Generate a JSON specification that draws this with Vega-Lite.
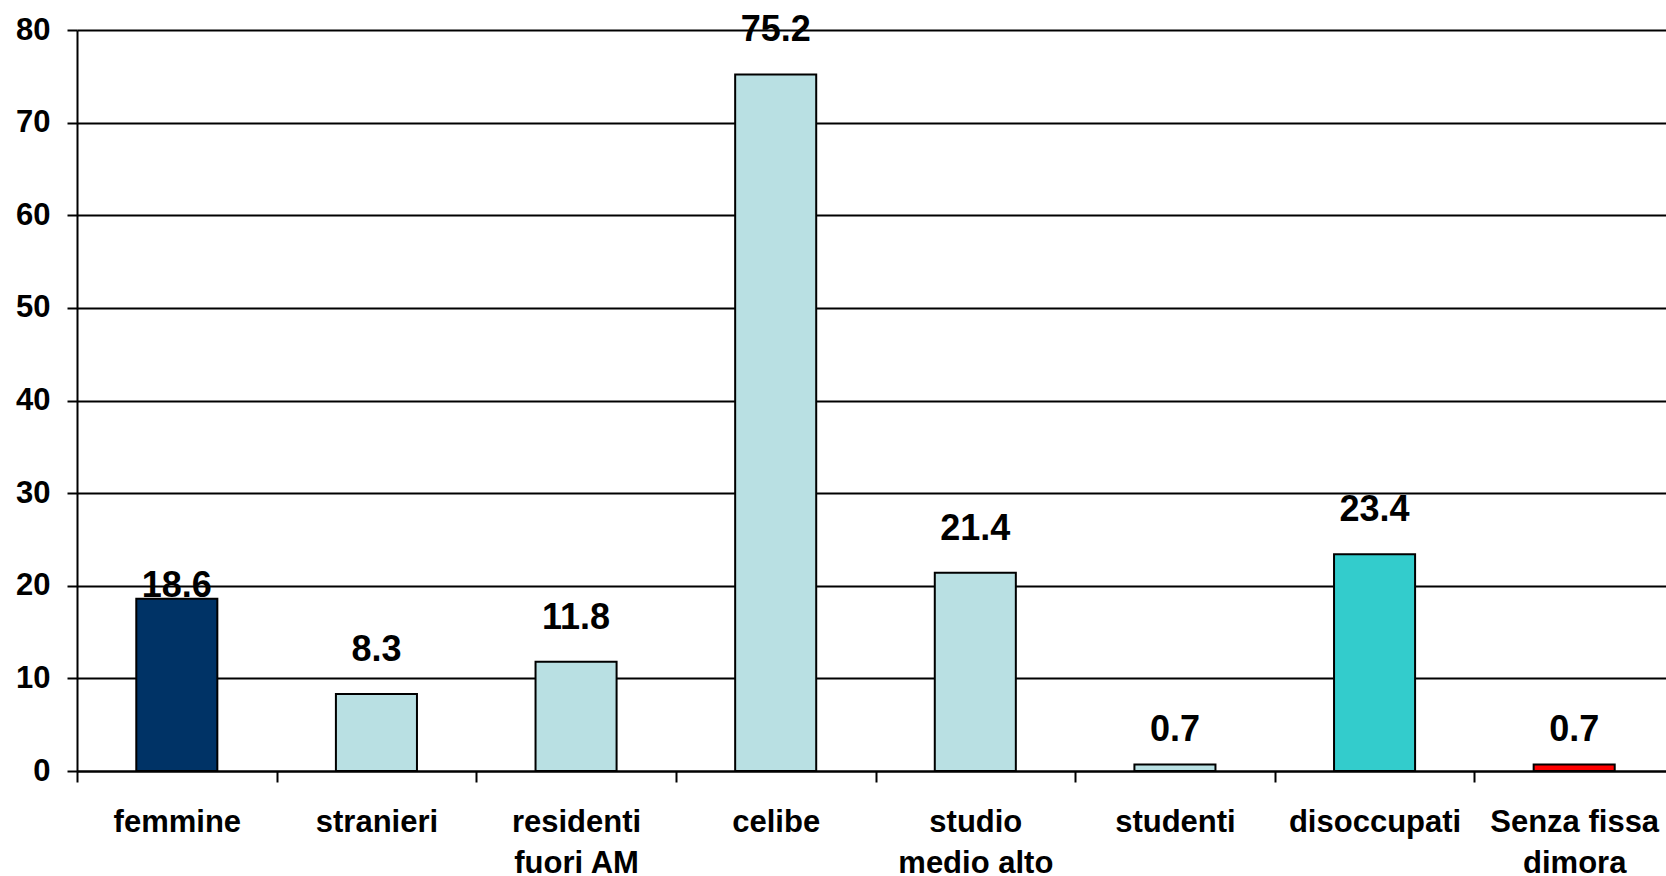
{
  "$schema": "https://vega.github.io/schema/vega-lite/v6.json",
  "width": 1589,
  "height": 741,
  "autosize": {"type": "none"},
  "padding": {"left": 77, "top": 30, "right": 0, "bottom": 105},
  "background": "white",
  "config": {
    "view": {"stroke": null},
    "font": "Liberation Sans"
  },
  "data": {
    "values": [
      {"gruppo": "femmine", "valore": 18.6},
      {"gruppo": "stranieri", "valore": 8.3},
      {"gruppo": "residenti fuori AM", "valore": 11.8},
      {"gruppo": "celibe", "valore": 75.2},
      {"gruppo": "studio medio alto", "valore": 21.4},
      {"gruppo": "studenti", "valore": 0.7},
      {"gruppo": "disoccupati", "valore": 23.4},
      {"gruppo": "Senza fissa dimora", "valore": 0.7}
    ]
  },
  "encoding": {
    "x": {
      "field": "gruppo",
      "type": "nominal",
      "sort": null,
      "scale": {"range": [0, 1597], "paddingInner": 0, "paddingOuter": 0},
      "axis": {
        "title": null,
        "labelAngle": 0,
        "labelFont": "Liberation Sans",
        "labelFontSize": 31,
        "labelFontWeight": "bold",
        "labelColor": "black",
        "labelLineHeight": 41,
        "labelPadding": 25,
        "labelExpr": "datum.value == 'residenti fuori AM' ? ['residenti', 'fuori AM'] : datum.value == 'studio medio alto' ? ['studio', 'medio alto'] : datum.value == 'Senza fissa dimora' ? ['Senza fissa', 'dimora'] : datum.value",
        "domainColor": "black",
        "domainWidth": 2,
        "tickColor": "black",
        "tickWidth": 2,
        "tickSize": 11,
        "tickBand": "extent"
      }
    },
    "y": {
      "field": "valore",
      "type": "quantitative",
      "scale": {"domain": [0, 80], "nice": false},
      "axis": {
        "title": null,
        "values": [0, 10, 20, 30, 40, 50, 60, 70, 80],
        "labelFont": "Liberation Sans",
        "labelFontSize": 31,
        "labelFontWeight": "bold",
        "labelColor": "black",
        "labelPadding": 17,
        "grid": true,
        "gridColor": "black",
        "gridWidth": 2,
        "gridOpacity": 1,
        "domainColor": "black",
        "domainWidth": 2,
        "tickColor": "black",
        "tickWidth": 2,
        "tickSize": 10
      }
    }
  },
  "layer": [
    {
      "mark": {"type": "bar", "stroke": "black", "strokeWidth": 2, "width": {"band": 0.406}},
      "encoding": {
        "color": {
          "field": "gruppo",
          "type": "nominal",
          "legend": null,
          "scale": {
            "domain": ["femmine", "stranieri", "residenti fuori AM", "celibe", "studio medio alto", "studenti", "disoccupati", "Senza fissa dimora"],
            "range": ["#003366", "#B9E0E3", "#B9E0E3", "#B9E0E3", "#B9E0E3", "#B9E0E3", "#33CCCC", "#FF0000"]
          }
        }
      }
    },
    {
      "transform": [{"filter": "datum.gruppo != 'femmine' && datum.valore >= 1"}],
      "mark": {"type": "text", "baseline": "alphabetic", "align": "center", "dy": -33, "fontSize": 36, "fontWeight": "bold", "color": "black"},
      "encoding": {"text": {"field": "valore", "type": "quantitative", "format": ".1f"}}
    },
    {
      "transform": [{"filter": "datum.gruppo == 'femmine'"}],
      "mark": {"type": "text", "baseline": "alphabetic", "align": "center", "dy": -2, "fontSize": 36, "fontWeight": "bold", "color": "black"},
      "encoding": {"text": {"field": "valore", "type": "quantitative", "format": ".1f"}}
    },
    {
      "transform": [{"filter": "datum.valore < 1"}],
      "mark": {"type": "text", "baseline": "alphabetic", "align": "center", "dy": -24, "fontSize": 36, "fontWeight": "bold", "color": "black"},
      "encoding": {"text": {"field": "valore", "type": "quantitative", "format": ".1f"}}
    }
  ]
}
